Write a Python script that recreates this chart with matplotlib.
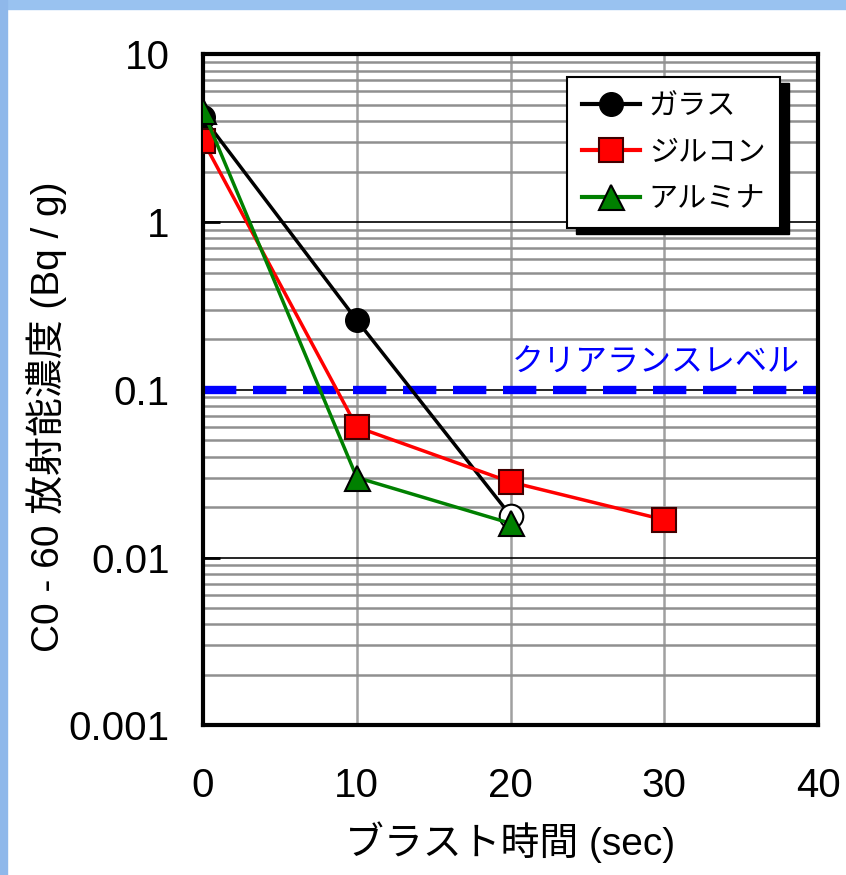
import matplotlib.pyplot as plt
import matplotlib.patches as patches
from matplotlib.ticker import LogLocator, NullFormatter, FixedLocator, FixedFormatter

lat = ['Liberation Sans', 'Noto Sans CJK JP', 'DejaVu Sans']
jp = ['Noto Sans CJK JP', 'DejaVu Sans']
plt.rcParams['font.family'] = lat

# data
glass_t = [0, 10, 20]
glass_v = [4.2, 0.26, 0.0178]
zircon_t = [0, 10, 20, 30]
zircon_v = [3.05, 0.060, 0.0282, 0.0168]
alumina_t = [0, 10, 20]
alumina_v = [4.6, 0.030, 0.0160]
clearance = 0.1

yticks = [0.001, 0.01, 0.1, 1, 10]
ylabels = ['0.001', '0.01', '0.1', '1', '10']
xticks = [0, 10, 20, 30, 40]

fig = plt.figure(figsize=(8.46, 8.75), dpi=100)
fig.patch.set_facecolor('white')
# slide background edges
fig.patches.append(patches.Rectangle((0, 0.99), 1, 0.01, transform=fig.transFigure,
                                     color='#99c2f0', zorder=0))
fig.patches.append(patches.Rectangle((0, 0), 0.008, 1, transform=fig.transFigure,
                                     color='#8fb8ea', zorder=0))

ax = fig.add_axes([0.24, 0.171, 0.727, 0.767])
ax.set_yscale('log')
ax.set_ylim(0.001, 10)
ax.set_xlim(0, 40)

ax.yaxis.set_major_locator(FixedLocator(yticks))
ax.yaxis.set_major_formatter(FixedFormatter(ylabels))
ax.yaxis.set_minor_locator(LogLocator(base=10, subs=range(2, 10)))
ax.yaxis.set_minor_formatter(NullFormatter())
ax.set_xticks(xticks)

ax.grid(True, which='minor', axis='y', color='#909090', lw=1.8)
ax.grid(True, which='major', axis='y', color='black', lw=1.2)
ax.grid(True, which='major', axis='x', color='#a0a0a0', lw=1.8)
ax.set_axisbelow(True)

ax.tick_params(axis='y', which='major', direction='in', length=12, width=2,
               labelsize=29, pad=24)
ax.tick_params(axis='y', which='minor', length=0)
ax.tick_params(axis='x', direction='in', length=0, labelsize=29, pad=30)
for lb in ax.get_xticklabels() + ax.get_yticklabels():
    lb.set_fontfamily('Liberation Sans')
for s in ax.spines.values():
    s.set_linewidth(3)

ax.axhline(clearance, color='#0000ff', lw=6, ls=(0, (4, 2)), zorder=2)
ax.text(38.8, clearance * 1.17, 'クリアランスレベル', color='#0000ff', fontsize=23,
        family=jp, ha='right', va='bottom')

ax.plot(glass_t, glass_v, color='black', lw=2.5, zorder=3)
ax.plot(glass_t[:-1], glass_v[:-1], 'o', color='black', ms=17, zorder=4)
ax.plot(glass_t[-1:], glass_v[-1:], 'o', mfc='white', mec='black', mew=1.5, ms=17, zorder=4)
ax.plot(zircon_t, zircon_v, color='red', lw=2.5, marker='s', ms=17,
        mfc='red', mec='#400000', mew=1.5, zorder=5)
ax.plot(alumina_t, alumina_v, color='green', lw=2.5, marker='^', ms=18,
        mfc='green', mec='black', mew=1.5, zorder=6)

h1, = ax.plot([], [], color='black', lw=3, marker='o', ms=17)
h2, = ax.plot([], [], color='red', lw=3, marker='s', ms=17, mfc='red', mec='#400000', mew=1.5)
h3, = ax.plot([], [], color='green', lw=3, marker='^', ms=18, mfc='green', mec='black', mew=1.5)
leg = ax.legend([h1, h2, h3], ['ガラス', 'ジルコン', 'アルミナ'], loc='upper right',
                bbox_to_anchor=(0.938, 0.966), prop={'family': jp, 'size': 21},
                fancybox=False, framealpha=1, edgecolor='black', handlelength=2.0,
                labelspacing=0.55, borderpad=0.5, handletextpad=0.3,
                borderaxespad=0)
leg.get_frame().set_linewidth(1.5)
leg.set_zorder(20)

ax.set_xlabel('ブラスト時間 (sec)', fontsize=28, labelpad=12)
ax.set_ylabel('C0 - 60 放射能濃度 (Bq / g)', fontsize=28)
ax.yaxis.set_label_coords(-0.222, 0.46)

# offset black shadow behind the legend box
fig.canvas.draw()
bb = leg.get_window_extent()
shadow = patches.Rectangle((bb.x0 + 9, bb.y0 - 6), bb.width, bb.height,
                           transform=None, color='black', zorder=19)
ax.add_artist(shadow)

fig.savefig('out.png', dpi=100)
